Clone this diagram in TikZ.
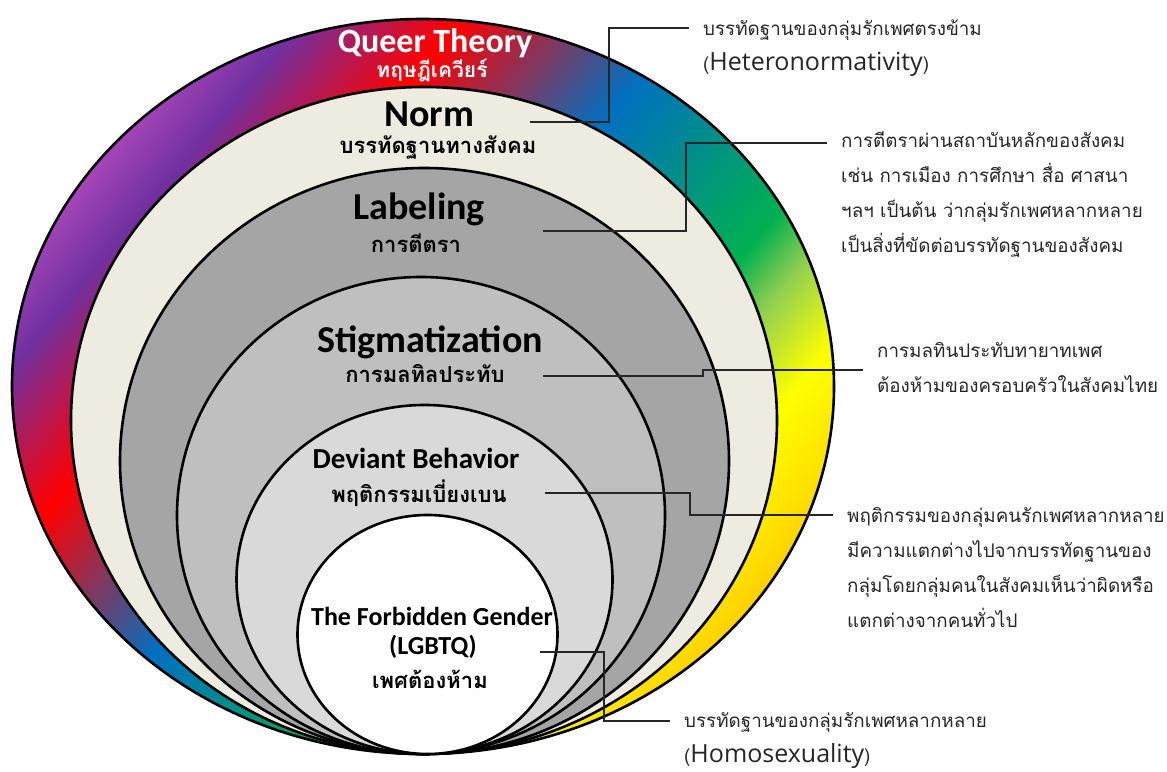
\documentclass[tikz,border=0pt]{standalone}
\usepackage{fontspec}
\setmainfont{Carlito}
\newfontfamily\thaifont[Script=Thai]{Loma}
\newfontfamily\notefont{Open Sans}
\usetikzlibrary{positioning}

\definecolor{normcream}{HTML}{EEECE1}
\definecolor{labelgray}{HTML}{A5A5A5}
\definecolor{stiggray}{HTML}{BFBFBF}
\definecolor{devgray}{HTML}{D9D9D9}
\definecolor{rbmagenta}{HTML}{A546B8}
\definecolor{rbpurple}{HTML}{7030A0}
\definecolor{rbred}{HTML}{FF0000}
\definecolor{rbblue}{HTML}{0070C0}
\definecolor{rbgreen}{HTML}{00B050}
\definecolor{rblime}{HTML}{92D050}
\definecolor{rbyellow}{HTML}{FFFF00}
\definecolor{rbgold}{HTML}{FFE000}
\definecolor{rborange}{HTML}{FFC000}

\pgfdeclarehorizontalshading{queerrainbow}{100bp}{color(0bp)=(rbmagenta); color(26bp)=(rbmagenta);
  color(30bp)=(rbpurple); color(37.3bp)=(rbred); color(48bp)=(rbblue); color(59.8bp)=(rbgreen);
  color(63bp)=(rblime); color(67.5bp)=(rbyellow); color(72bp)=(rbgold); color(76bp)=(rborange);
  color(100bp)=(rborange)}

\begin{document}
\begin{tikzpicture}[x=1pt, y=1pt,
    ring/.style={draw=black, line width=2.6pt},
    ringtitle/.style={font=\bfseries\fontsize{38}{44}\selectfont, anchor=base, inner sep=0pt},
    ringthai/.style={font=\thaifont\bfseries\fontsize{22}{26}\selectfont, anchor=base, inner sep=0pt},
    callout/.style={font=\thaifont\fontsize{18.8}{35}\selectfont, align=left, anchor=base west,
        inner xsep=14pt, inner ysep=0pt, text=black!85},
    leader/.style={draw=black!85, line width=1.2pt}]
    \useasboundingbox (0,0) rectangle (1167,771);

    % Ring centres (every ring touches the bottom at y=17)
    \coordinate (queer) at (423,384.5);
    \coordinate (norm) at (424,350.5);
    \coordinate (label) at (424.5,310);
    \coordinate (stig) at (421,255.5);
    \coordinate (dev) at (424.5,191.5);
    \coordinate (forbid) at (427.5,136.5);

    % Rings
    \begin{scope}
        \clip (queer) ellipse [x radius=411, y radius=367.5];
        \shade[shading=queerrainbow, shading angle=-40] ([shift={(-411,-411)}]queer) rectangle ([shift={(411,411)}]queer);
    \end{scope}
    \draw[ring] (queer) ellipse [x radius=411, y radius=367.5];
    \draw[ring, fill=normcream] (norm) ellipse [x radius=353, y radius=333.5];
    \draw[ring, fill=labelgray] (label) ellipse [x radius=304.5, y radius=293];
    \draw[ring, fill=stiggray] (stig) ellipse [x radius=244, y radius=238.5];
    \draw[ring, fill=devgray] (dev) ellipse [x radius=188, y radius=174.5];
    \draw[ring, fill=white] (forbid) ellipse [x radius=130, y radius=119.5];

    % Ring names
    \node[ringtitle, text=white, font=\bfseries\fontsize{34}{40}\selectfont] (queer-en) at (435,718) {Queer Theory};
    \node[ringthai, text=white, font=\thaifont\bfseries\fontsize{21}{26}\selectfont] (queer-th) at (432,693) {ทฤษฎีเควียร์};
    \node[ringtitle] (norm-en) at (429,644) {Norm};
    \node[ringthai] (norm-th) at (438,617) {บรรทัดฐานทางสังคม};
    \node[ringtitle] (label-en) at (419,551) {Labeling};
    \node[ringthai] (label-th) at (416,518) {การตีตรา};
    \node[ringtitle] (stig-en) at (430,418) {Stigmatization};
    \node[ringthai] (stig-th) at (425,388) {การมลทิลประทับ};
    \node[ringtitle, font=\bfseries\fontsize{29}{32}\selectfont] (dev-en) at (416,302) {Deviant Behavior};
    \node[ringthai] (dev-th) at (419,268) {พฤติกรรมเบี่ยงเบน};
    \node[ringtitle, font=\bfseries\fontsize{26}{30}\selectfont] (forbid-en) at (432,145) {The Forbidden Gender};
    \node[ringtitle, font=\bfseries\fontsize{26}{30}\selectfont] (forbid-lgbtq) at (433,116) {(LGBTQ)};
    \node[ringthai] (forbid-th) at (430,82) {เพศต้องห้าม};

    % Notes (placed by the baseline of their last line)
    \node[callout] (hetero) at (689,700) {บรรทัดฐานของกลุ่มรักเพศตรงข้าม\\({\notefont\fontsize{25}{35}\selectfont Heteronormativity})};
    \node[callout] (label-note) at (827,518) {การตีตราผ่านสถาบันหลักของสังคม\\เช่น การเมือง การศึกษา สื่อ ศาสนา\\ฯลฯ เป็นต้น ว่ากลุ่มรักเพศหลากหลาย\\เป็นสิ่งที่ขัดต่อบรรทัดฐานของสังคม};
    \node[callout] (stig-note) at (863,378) {การมลทินประทับทายาทเพศ\\ต้องห้ามของครอบครัวในสังคมไทย};
    \node[callout] (dev-note) at (833,143) {พฤติกรรมของกลุ่มคนรักเพศหลากหลาย\\มีความแตกต่างไปจากบรรทัดฐานของ\\กลุ่มโดยกลุ่มคนในสังคมเห็นว่าผิดหรือ\\แตกต่างจากคนทั่วไป};
    \node[callout] (homo) at (670,9) {บรรทัดฐานของกลุ่มรักเพศหลากหลาย\\({\notefont\fontsize{25}{35}\selectfont Homosexuality})};

    % Leaders
    \coordinate (norm-pt) at (530,649);
    \coordinate (norm-bend) at (609,743);
    \coordinate (label-pt) at (543,540);
    \coordinate (label-bend) at (686,628);
    \coordinate (stig-pt) at (543,395);
    \coordinate (stig-bend) at (703,401);
    \coordinate (dev-pt) at (545,278);
    \coordinate (dev-bend) at (690,256);
    \coordinate (forbid-pt) at (540,119);
    \coordinate (forbid-bend) at (604,50);
    \draw[leader] (norm-pt) -| (norm-bend) -- (norm-bend -| hetero.west);
    \draw[leader] (label-pt) -| (label-bend) -- (label-bend -| label-note.west);
    \draw[leader] (stig-pt) -| (stig-bend) -- (stig-bend -| stig-note.west);
    \draw[leader] (dev-pt) -| (dev-bend) -- (dev-bend -| dev-note.west);
    \draw[leader] (forbid-pt) -| (forbid-bend) -- (forbid-bend -| homo.west);
\end{tikzpicture}
\end{document}
